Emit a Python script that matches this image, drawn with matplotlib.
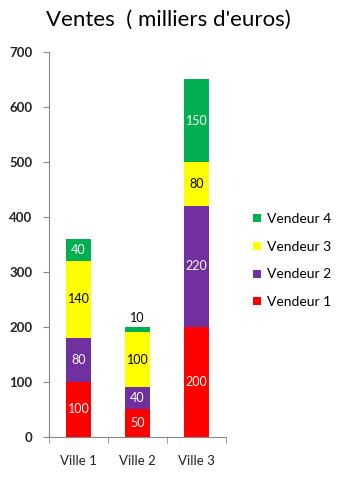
import numpy as np
import matplotlib
matplotlib.use('Agg')
import matplotlib.pyplot as plt
from matplotlib.lines import Line2D

plt.rcParams['font.family'] = ['Lato', 'DejaVu Sans']

# Sales per town, in thousands of euros
villes = ['Ville 1', 'Ville 2', 'Ville 3']
vendeurs = ['Vendeur 1', 'Vendeur 2', 'Vendeur 3', 'Vendeur 4']
vendeur1 = [100, 50, 200]
vendeur2 = [80, 40, 220]
vendeur3 = [140, 100, 80]
vendeur4 = [40, 10, 150]

series = [vendeur1, vendeur2, vendeur3, vendeur4]
colors = ['#FF0000', '#7030A0', '#FFFF00', '#00B050']
text_colors = ['white', 'white', 'black', 'white']

fig = plt.figure(figsize=(3.37, 4.8), dpi=100)
ax = fig.add_axes([0.1454, 0.0896, 0.5252, 0.8021])

x = np.arange(len(villes))
bottom = np.zeros(len(villes))
for vals, col, tcol in zip(series, colors, text_colors):
    vals = np.array(vals)
    ax.bar(x, vals, bottom=bottom, width=0.41, color=col, linewidth=0)
    for xi, b, v in zip(x, bottom, vals):
        if v >= 30:
            ax.text(xi, b + v / 2, str(v), ha='center', va='center',
                    color=tcol, fontsize=9)
        else:
            # thin segment: label sits above the bar
            ax.text(xi, b + v + 6, str(v), ha='center', va='bottom',
                    color='black', fontsize=9)
    bottom += vals

ax.set_xlim(-0.5, 2.5)
ax.set_ylim(0, 700)
ax.set_yticks(range(0, 701, 100))
ax.set_xticks(x)
ax.set_xticklabels(villes)
ax.set_xticks([-0.5, 0.5, 1.5, 2.5], minor=True)
ax.tick_params(axis='x', which='major', length=0, pad=13, labelsize=9.5,
               labelcolor='#222222')
ax.tick_params(axis='x', which='minor', length=4, color='#888888')
ax.tick_params(axis='y', length=4, color='#888888', labelsize=9.5, pad=8,
               labelcolor='#222222')
for lab in ax.get_yticklabels():
    lab.set_fontweight('bold')

for side in ['top', 'right']:
    ax.spines[side].set_visible(False)
for side in ['left', 'bottom']:
    ax.spines[side].set_color('#888888')
    ax.spines[side].set_linewidth(0.8)

fig.text(0.5, 0.958, "Ventes  ( milliers d'euros)", ha='center', va='center',
         fontsize=16)

handles = [Line2D([], [], marker='s', linestyle='none', markersize=6,
                  markerfacecolor=c, markeredgewidth=0) for c in colors]
fig.legend(handles[::-1], vendeurs[::-1],
           loc='center left', bbox_to_anchor=(0.71, 0.457), frameon=False,
           fontsize=10, handlelength=0.8, handletextpad=0.3, labelspacing=1.12)

fig.savefig('out.png', dpi=100)
